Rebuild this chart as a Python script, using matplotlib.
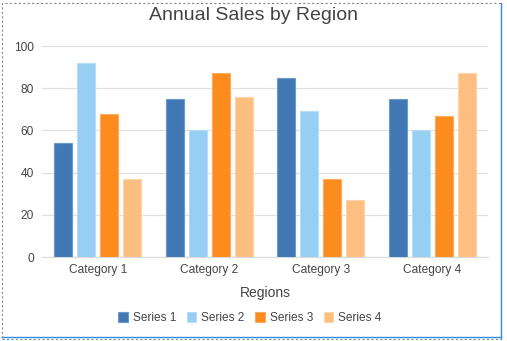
import numpy as np
import matplotlib
matplotlib.use("Agg")
import matplotlib.pyplot as plt
from matplotlib.patches import Rectangle
from matplotlib.lines import Line2D

categories = ["Category 1", "Category 2", "Category 3", "Category 4"]
series_names = ["Series 1", "Series 2", "Series 3", "Series 4"]
series_1 = [54, 75, 85, 75]
series_2 = [92, 60, 69, 60]
series_3 = [68, 87, 37, 67]
series_4 = [37, 76, 27, 87]
y_ticks = [0, 20, 40, 60, 80, 100]

colors = ["#4178b4", "#97cef3", "#fd8c1e", "#fdbf80"]
edges = ["#6d98c8", "#b8ddf7", "#fdab5c", "#fdd3a8"]

plt.rcParams['font.family'] = ['Liberation Sans', 'DejaVu Sans']

fig = plt.figure(figsize=(5.07, 3.41), dpi=100)
fig.patch.set_facecolor("white")
ax = fig.add_axes([0.083, 0.2463, 0.8795, 0.6187])

x = np.arange(len(categories))
step = 0.206
width = 0.16
all_series = [series_1, series_2, series_3, series_4]
for i, vals in enumerate(all_series):
    ax.bar(x + (i - 1.5) * step, vals, width, color=colors[i],
           edgecolor=edges[i], linewidth=0.8, label=series_names[i], zorder=3)

ax.set_xlim(-0.5, len(categories) - 0.5)
ax.set_ylim(0, 100)
ax.set_yticks(y_ticks)
ax.set_xticks(x, labels=categories)
ax.tick_params(axis="both", length=0, labelsize=8.6, colors="#444444")
ax.tick_params(axis="y", pad=6)
ax.tick_params(axis="x", pad=5)
ax.yaxis.grid(True, color="#e0e0e0", linewidth=0.9, zorder=0)
for s in ["top", "right", "left"]:
    ax.spines[s].set_visible(False)
ax.spines["bottom"].set_color("#d9d9d9")

ax.set_xlabel("Regions", fontsize=10, color="#444444", labelpad=7)
fig.text(0.5, 0.955, "Annual Sales by Region", ha="center", va="center",
         fontsize=14, color="#444444")

leg = ax.legend(loc="center", bbox_to_anchor=(0.466, -0.29), ncol=4,
                frameon=False, fontsize=8.6, handlelength=0.8, handleheight=0.8,
                handletextpad=0.4, columnspacing=0.9, labelcolor="#444444")

# editor frame decoration
fig.patches.append(Rectangle((0.004, 0.006), 0.985, 0.985, transform=fig.transFigure,
                             fill=False, edgecolor="#888888", linestyle=(0, (2, 2)),
                             linewidth=0.8))
fig.lines.append(Line2D([0.989, 0.989], [0.01, 0.99], transform=fig.transFigure,
                        color="#2f8fe0", linewidth=1.0))
fig.lines.append(Line2D([0.004, 0.989], [0.012, 0.012], transform=fig.transFigure,
                        color="#2f8fe0", linewidth=1.0))

fig.savefig("out.png", dpi=100)
